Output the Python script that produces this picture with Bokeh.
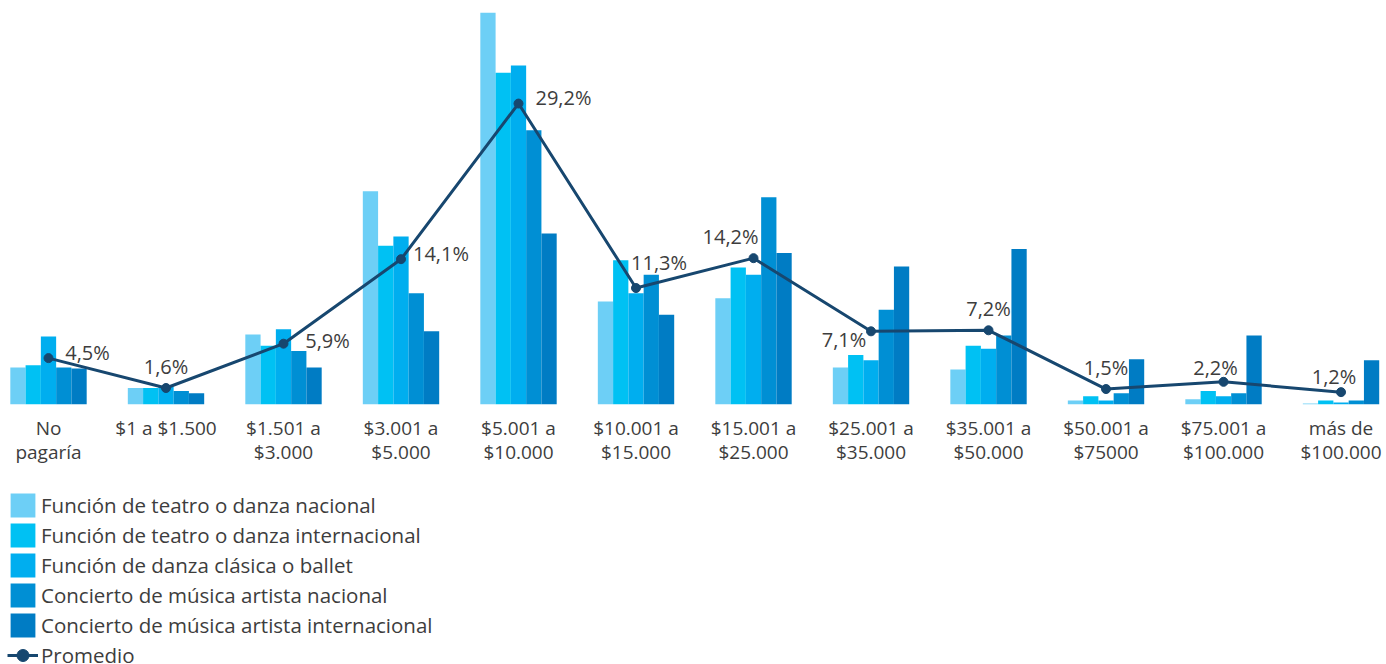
from bokeh.plotting import figure
from bokeh.layouts import column
from bokeh.models import (Range1d, FixedTicker, Legend, LegendItem, ColumnDataSource)
from bokeh.transform import dodge
from bokeh.embed import file_html
from bokeh.resources import INLINE
from bokeh.core.properties import value

# ---------------- data ----------------
categories = ["No\npagaría", "$1 a $1.500", "$1.501 a\n$3.000", "$3.001 a\n$5.000",
              "$5.001 a\n$10.000", "$10.001 a\n$15.000", "$15.001 a\n$25.000",
              "$25.001 a\n$35.000", "$35.001 a\n$50.000", "$50.001 a\n$75000",
              "$75.001 a\n$100.000", "más de\n$100.000"]

series_names = ["Función de teatro o danza nacional",
                "Función de teatro o danza internacional",
                "Función de danza clásica o ballet",
                "Concierto de música artista nacional",
                "Concierto de música artista internacional"]

teatro_nacional = [3.6, 1.6, 6.8, 20.7, 38.0, 10.0, 10.3, 3.6, 3.4, 0.4, 0.5, 0.1]
teatro_internacional = [3.8, 1.6, 5.7, 15.4, 32.2, 14.0, 13.3, 4.8, 5.7, 0.8, 1.3, 0.4]
danza_ballet = [6.6, 1.7, 7.3, 16.3, 32.9, 10.8, 12.6, 4.3, 5.4, 0.4, 0.8, 0.2]
musica_nacional = [3.6, 1.3, 5.2, 10.8, 26.6, 12.6, 20.1, 9.2, 6.7, 1.1, 1.1, 0.4]
musica_internacional = [3.5, 1.1, 3.6, 7.1, 16.6, 8.7, 14.7, 13.4, 15.1, 4.4, 6.7, 4.3]
promedio = [4.5, 1.6, 5.9, 14.1, 29.2, 11.3, 14.2, 7.1, 7.2, 1.5, 2.2, 1.2]

# ---------------- styles ----------------
bar_colors = ["#6dcff6", "#00c1f3", "#00aeef", "#008fd4", "#007cc4"]
line_color = "#17476f"
text_color = "#3d3d3d"
font = "Open Sans"
# label placement offsets (screen px) for the Promedio labels
label_dx = [39, 0, 44, 40, 45, 23, -23, -27, 0, 0, -8, -7]
label_dy = [-6, -22, -3, -6, -6, -26, -22, 8, -22, -22, -14, -16]

n = len(categories)
idx = list(range(n))
src = ColumnDataSource(dict(
    x=idx,
    s0=teatro_nacional, s1=teatro_internacional, s2=danza_ballet,
    s3=musica_nacional, s4=musica_internacional,
    prom=promedio,
    lbl=[f"{v:.1f}".replace(".", ",") + "%" for v in promedio],
    dx=label_dx, dy=label_dy,
))

bw = 0.13
offsets = [-2 * bw, -bw, 0, bw, 2 * bw]


def add_series(fig):
    bars = []
    for k in range(5):
        r = fig.vbar(x=dodge("x", offsets[k], range=fig.x_range), top=f"s{k}", width=bw,
                     bottom=0, source=src, fill_color=bar_colors[k], line_color=None)
        bars.append(r)
    ln = fig.line(x="x", y="prom", source=src, line_color=line_color, line_width=3)
    pt = fig.scatter(x="x", y="prom", source=src, size=9, fill_color=line_color,
                     line_color=line_color)
    return bars, ln, pt


# ---------------- main chart ----------------
p = figure(width=1386, height=480, output_backend="svg", toolbar_location=None,
           x_range=Range1d(-0.4085, 11.387), y_range=Range1d(0, 39.2),
           y_axis_location=None, min_border_left=0, min_border_right=0,
           min_border_top=0, min_border_bottom=76)
p.outline_line_color = None
p.grid.visible = False

add_series(p)

p.text(x="x", y="prom", text="lbl", source=src, x_offset="dx", y_offset="dy",
       text_align="center", text_baseline="middle", text_font=value(font),
       text_font_size="20px", text_color=text_color)

ax = p.xaxis[0]
ax.ticker = FixedTicker(ticks=idx)
ax.major_label_overrides = {i: c for i, c in zip(idx, categories)}
ax.axis_line_color = None
ax.major_tick_line_color = None
ax.minor_tick_line_color = None
ax.major_label_standoff = 4
ax.major_label_text_font = font
ax.major_label_text_font_size = "19px"
ax.major_label_text_color = text_color
ax.major_label_text_line_height = 0.93

# ---------------- legend panel ----------------
lg = figure(width=1386, height=184, output_backend="svg", toolbar_location=None,
            x_range=Range1d(100, 101), y_range=Range1d(100, 101),
            x_axis_location=None, y_axis_location=None,
            min_border_left=0, min_border_right=0, min_border_top=0, min_border_bottom=0)
lg.outline_line_color = None
lg.grid.visible = False
lbars, lln, lpt = add_series(lg)

items = [LegendItem(label=series_names[k], renderers=[lbars[k]]) for k in range(5)]
items.append(LegendItem(label="Promedio", renderers=[lln, lpt]))
legend = Legend(items=items, location=(7, -6), orientation="vertical",
                glyph_width=31, glyph_height=30, label_height=30, spacing=0,
                padding=0, margin=0, label_standoff=3,
                border_line_alpha=0, background_fill_alpha=0,
                label_text_font=font, label_text_font_size="20.5px",
                label_text_color=text_color)
lg.add_layout(legend)

layout = column(p, lg, spacing=0)
open("out.html", "w").write(file_html(layout, INLINE))
